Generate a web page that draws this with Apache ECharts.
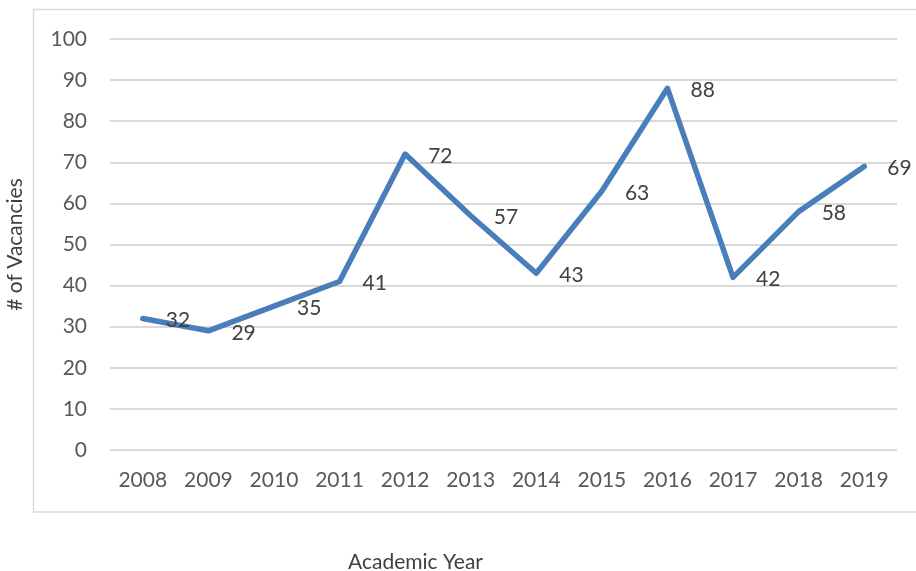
<!DOCTYPE html>
<html><head><meta charset="utf-8">
<script src="https://cdn.jsdelivr.net/npm/echarts@6/dist/echarts.min.js"></script>
<style>html,body{margin:0;padding:0;background:#fff}#c{width:916px;height:571px}</style>
</head><body><div id="c"></div>
<script>
const years = ['2008','2009','2010','2011','2012','2013','2014','2015','2016','2017','2018','2019'];
const vacancies = [32,29,35,41,72,57,43,63,88,42,58,69];
const yTicks = {min:0, max:100, interval:10};
const FONT = 'Lato';
const chart = echarts.init(document.getElementById('c'));
chart.setOption({
  animation:false,
  backgroundColor:'#fff',
  graphic:[{type:'rect', shape:{x:33.5,y:9.5,width:900,height:502.5}, style:{fill:'none',stroke:'#d9d9d9',lineWidth:1.5}, z:-1}],
  grid:{left:110,right:19,top:39,bottom:121,containLabel:false,outerBoundsMode:'none'},
  xAxis:{type:'category',data:years,boundaryGap:true,
    axisLine:{show:false},axisTick:{show:false},
    axisLabel:{color:'#595959',fontFamily:FONT,fontSize:21,margin:20},
    name:'Academic Year',nameLocation:'middle',nameGap:102,
    nameTextStyle:{color:'#404040',fontFamily:FONT,fontSize:21,padding:[0,0,0,-176]}},
  yAxis:{type:'value',min:yTicks.min,max:yTicks.max,interval:yTicks.interval,
    axisLine:{show:false},axisTick:{show:false},
    splitLine:{lineStyle:{color:'#d9d9d9',width:2}},
    axisLabel:{color:'#595959',fontFamily:FONT,fontSize:21,margin:23},
    name:'# of Vacancies',nameLocation:'middle',nameGap:84,
    nameTextStyle:{color:'#404040',fontFamily:FONT,fontSize:21}},
  series:[{type:'line',data:vacancies,symbol:'circle',symbolSize:2,showSymbol:true,
    itemStyle:{color:'#4a7ebb'},
    lineStyle:{color:'#4a7ebb',width:5.5,join:'round',cap:'round'},
    label:{show:true,position:'right',distance:22,offset:[0,2],color:'#404040',fontFamily:FONT,fontSize:21}}]
});
</script></body></html>
